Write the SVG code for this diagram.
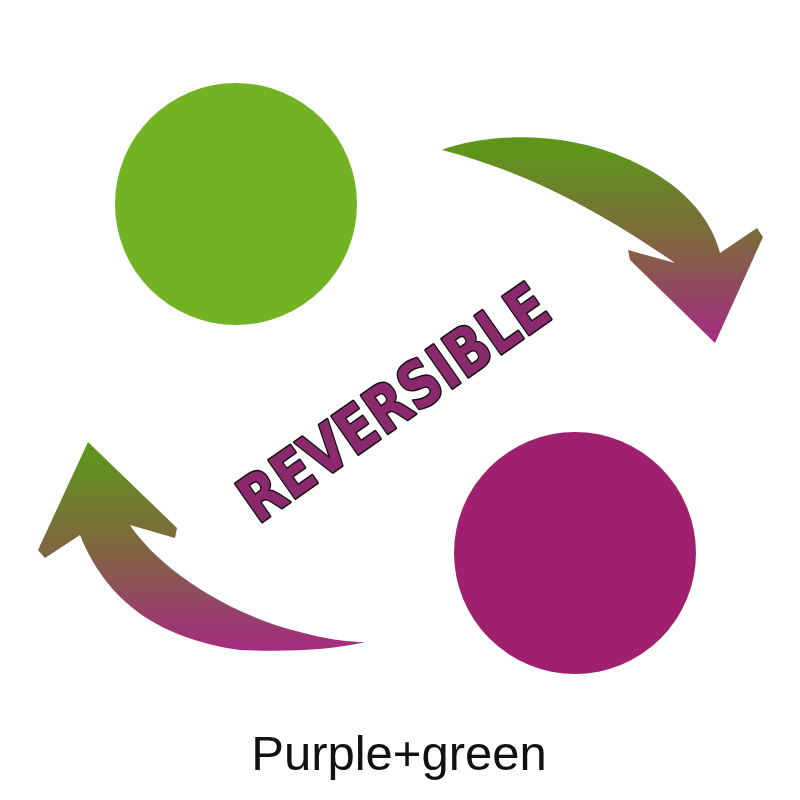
<svg xmlns="http://www.w3.org/2000/svg" width="800" height="800" viewBox="0 0 800 800">
  <defs>
    <linearGradient id="gTop" gradientUnits="userSpaceOnUse" x1="0" y1="150" x2="0" y2="340">
      <stop offset="0" stop-color="#5E961C"/>
      <stop offset="0.45" stop-color="#7D6A3C"/>
      <stop offset="1" stop-color="#A42C80"/>
    </linearGradient>
    <linearGradient id="gBot" gradientUnits="userSpaceOnUse" x1="0" y1="450" x2="0" y2="650">
      <stop offset="0" stop-color="#5E961C"/>
      <stop offset="0.45" stop-color="#7D6A3C"/>
      <stop offset="1" stop-color="#A42C80"/>
    </linearGradient>
    <style>
      .label { font-family: "Liberation Sans", Arial, sans-serif; font-size: 49px; fill: #111; }
      .rev { font-family: "DejaVu Sans", "Liberation Sans", sans-serif; font-weight: bold; font-size: 64px; fill: #8A2A6C; stroke: #111; stroke-width: 3; paint-order: stroke; stroke-linejoin: round; }
    </style>
  </defs>
  <rect width="800" height="800" fill="#ffffff"/>
  <g id="green">
    <circle cx="236" cy="204" r="121" fill="#72B323"/>
  </g>
  <g id="purple">
    <circle cx="575" cy="553" r="121" fill="#9E206E"/>
  </g>
  <g id="connectors">
    <path d="M442,150 C480,135 560,128 630,160 C680,183 710,215 720,253 L757,228 L763,237 L715,343 L630,260 L628,250 L675,263 C620,225 540,175 442,150 Z" fill="url(#gTop)"/>
    <path d="M88,442 L177,528 L175,538 L130,525 C160,570 230,615 300,632 C330,640 350,642 365,642 C330,650 290,652 240,650 C170,640 110,610 80,535 L45,558 L38,550 Z" fill="url(#gBot)"/>
  </g>
  <g id="reversible" transform="translate(393,402) rotate(-35)">
    <text class="rev" x="0" y="23" text-anchor="middle" textLength="362" lengthAdjust="spacingAndGlyphs">REVERSIBLE</text>
  </g>
  <g id="caption">
    <text class="label" x="399" y="770" text-anchor="middle">Purple+green</text>
  </g>
</svg>
